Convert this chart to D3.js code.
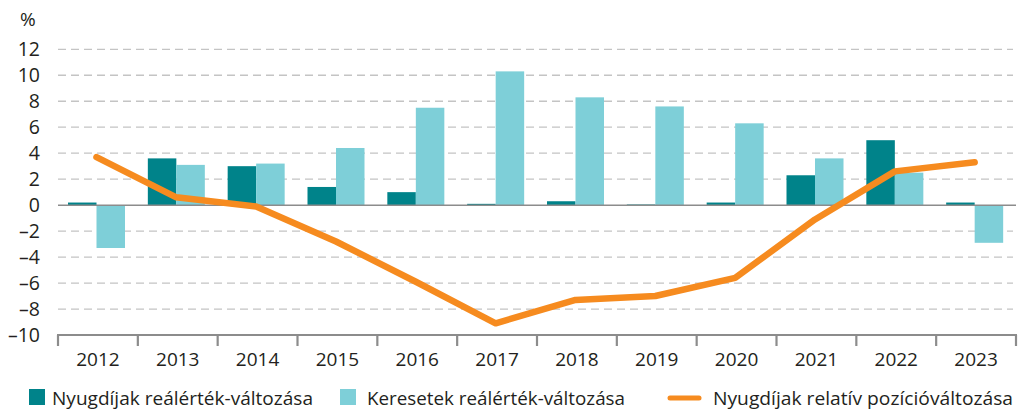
<!DOCTYPE html>
<html>
<head>
<meta charset="utf-8">
<script src="https://cdn.jsdelivr.net/npm/d3@7"></script>
<style>
  html, body { margin: 0; padding: 0; background: #fff; }
  svg { display: block; font-family: "Open Sans", "Noto Sans", sans-serif; }
</style>
</head>
<body>
<svg id="chart" width="1019" height="410"></svg>
<script>
// Years on the category axis
const years = ["2012","2013","2014","2015","2016","2017","2018","2019","2020","2021","2022","2023"];
// Real change of pensions (%)
const pensionReal = [0.2, 3.6, 3.0, 1.4, 1.0, 0.1, 0.3, 0.05, 0.2, 2.3, 5.0, 0.2];
// Real change of earnings (%)
const earningsReal = [-3.3, 3.1, 3.2, 4.4, 7.5, 10.3, 8.3, 7.6, 6.3, 3.6, 2.5, -2.9];
// Relative position change of pensions (%)
const pensionRelative = [3.7, 0.6, -0.1, -2.8, -5.9, -9.1, -7.3, -7.0, -5.6, -1.1, 2.6, 3.3];
// Y-axis ticks
const yTicks = [-10, -8, -6, -4, -2, 0, 2, 4, 6, 8, 10, 12];
// Legend labels
const seriesNames = ["Nyugdíjak reálérték-változása", "Keresetek reálérték-változása", "Nyugdíjak relatív pozícióváltozása"];

const colors = { pension: "#00838A", earnings: "#7ECFD8", line: "#F68B1F" };

const svg = d3.select("#chart");
const plotLeft = 58, plotRight = 1016, plotTop = 49.3, plotBottom = 335;

const x = d3.scaleBand().domain(years).range([plotLeft, plotRight]).padding(0);
const sub = d3.scaleBand().domain(["p", "e"]).range([10, 67]).padding(0);
const y = d3.scaleLinear().domain([-10, 12]).range([plotBottom, plotTop]);

// Dashed horizontal grid
svg.append("g").selectAll("line")
  .data(yTicks.filter(t => t !== 0 && t !== -10))
  .join("line")
  .attr("x1", plotLeft).attr("x2", 1013)
  .attr("y1", d => y(d)).attr("y2", d => y(d))
  .attr("stroke", "#c4c4c4").attr("stroke-width", 1.3)
  .attr("stroke-dasharray", "8,5");

// Y tick labels
svg.append("g").selectAll("text")
  .data(yTicks)
  .join("text")
  .attr("x", 40).attr("y", d => y(d))
  .attr("dy", "0.36em")
  .attr("text-anchor", "end")
  .attr("font-size", 19.5)
  .attr("fill", "#231f20")
  .text(d => d < 0 ? "–" + Math.abs(d) : d);

svg.append("text")
  .attr("x", 20).attr("y", 26)
  .attr("font-size", 19).attr("fill", "#231f20")
  .text("%");

// Bars
const groups = svg.append("g").selectAll("g")
  .data(years)
  .join("g")
  .attr("transform", d => `translate(${x(d)},0)`);

groups.append("rect")
  .attr("x", sub("p")).attr("width", sub.bandwidth())
  .attr("y", (d, i) => y(Math.max(0, pensionReal[i])))
  .attr("height", (d, i) => Math.abs(y(pensionReal[i]) - y(0)))
  .attr("fill", colors.pension);

groups.append("rect")
  .attr("x", sub("e")).attr("width", sub.bandwidth())
  .attr("y", (d, i) => y(Math.max(0, earningsReal[i])))
  .attr("height", (d, i) => Math.abs(y(earningsReal[i]) - y(0)))
  .attr("fill", colors.earnings);

// Zero line
svg.append("line")
  .attr("x1", plotLeft).attr("x2", plotRight)
  .attr("y1", y(0)).attr("y2", y(0))
  .attr("stroke", "#8c8c8c").attr("stroke-width", 1.5);

// Bottom category axis with ticks between categories
const axisG = svg.append("g");
axisG.append("line")
  .attr("x1", plotLeft - 1).attr("x2", plotRight + 1)
  .attr("y1", plotBottom).attr("y2", plotBottom)
  .attr("stroke", "#8c8c8c").attr("stroke-width", 2.2);
axisG.selectAll("line.tick")
  .data(years.concat(["end"]))
  .join("line")
  .attr("class", "tick")
  .attr("x1", d => d === "end" ? plotRight : x(d))
  .attr("x2", d => d === "end" ? plotRight : x(d))
  .attr("y1", plotBottom).attr("y2", plotBottom + 11)
  .attr("stroke", "#8c8c8c").attr("stroke-width", 2.2);
axisG.selectAll("text")
  .data(years)
  .join("text")
  .attr("x", d => x(d) + x.bandwidth() / 2)
  .attr("y", 366)
  .attr("text-anchor", "middle")
  .attr("font-size", 19)
  .attr("fill", "#231f20")
  .text(d => d);

// Relative position line
const line = d3.line()
  .x((d, i) => x(years[i]) + sub("e"))
  .y(d => y(d));
svg.append("path")
  .datum(pensionRelative)
  .attr("d", line)
  .attr("fill", "none")
  .attr("stroke", colors.line)
  .attr("stroke-width", 6.5)
  .attr("stroke-linecap", "round")
  .attr("stroke-linejoin", "round");

// Legend
const lg = svg.append("g").attr("font-size", 19).attr("fill", "#231f20");
lg.append("rect").attr("x", 29).attr("y", 389).attr("width", 16).attr("height", 16).attr("fill", colors.pension);
lg.append("text").attr("x", 52).attr("y", 404.5).attr("textLength", 261).attr("lengthAdjust", "spacingAndGlyphs").text(seriesNames[0]);
lg.append("rect").attr("x", 340).attr("y", 389).attr("width", 16).attr("height", 16).attr("fill", colors.earnings);
lg.append("text").attr("x", 367).attr("y", 404.5).attr("textLength", 258).attr("lengthAdjust", "spacingAndGlyphs").text(seriesNames[1]);
lg.append("line").attr("x1", 670).attr("x2", 699).attr("y1", 398).attr("y2", 398)
  .attr("stroke", colors.line).attr("stroke-width", 5).attr("stroke-linecap", "round");
lg.append("text").attr("x", 713).attr("y", 404.5).attr("textLength", 300).attr("lengthAdjust", "spacingAndGlyphs").text(seriesNames[2]);
</script>
</body>
</html>
